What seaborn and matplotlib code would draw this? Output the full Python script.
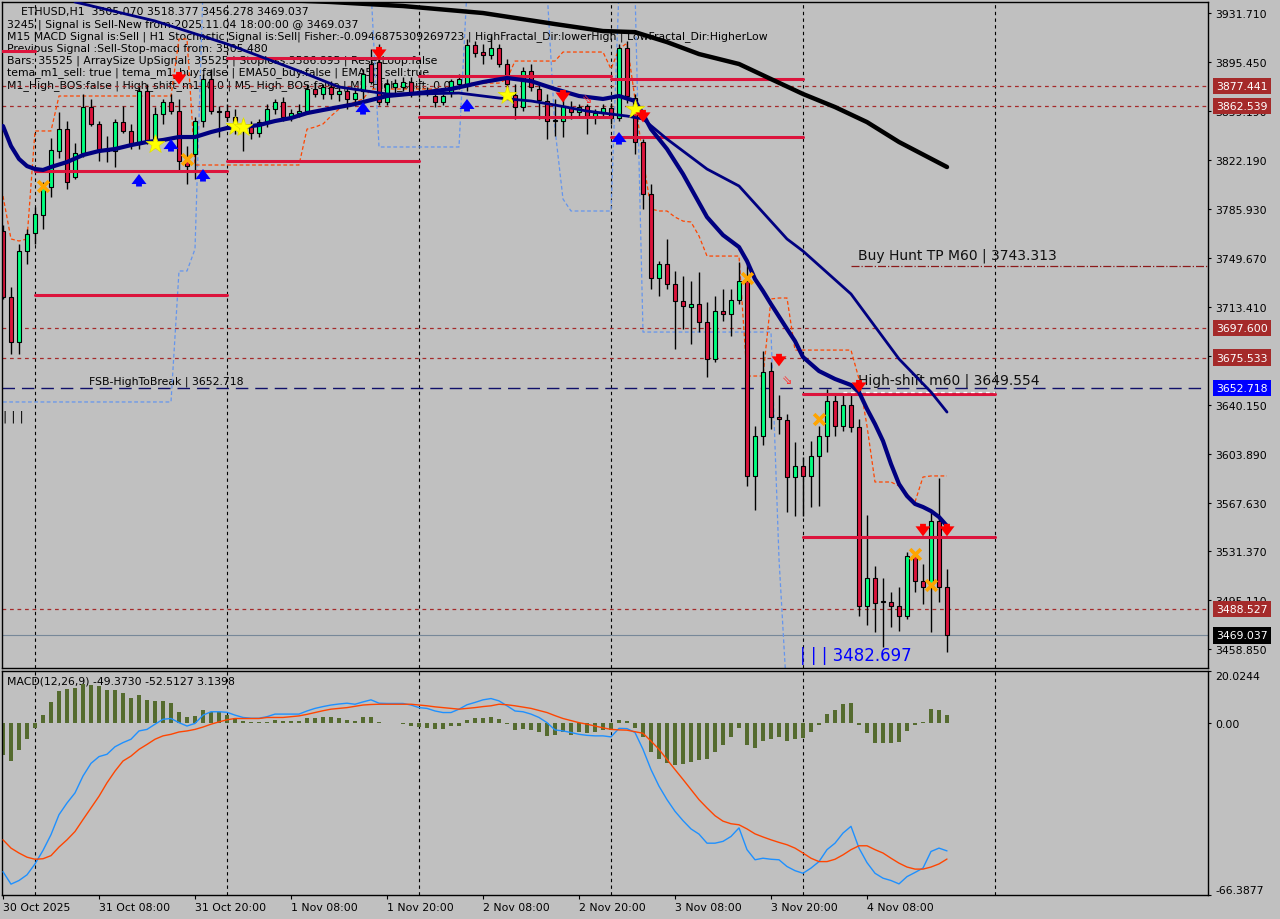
import matplotlib
matplotlib.use("Agg")
import matplotlib.pyplot as plt
import numpy as np
import seaborn as sns

# ETHUSD H1 - one bar per hour, first bar 30 Oct 2025 20:00, last 4 Nov 2025 18:00
opens = [3769.6, 3720.5, 3687.1, 3754.7, 3768.1, 3781.5, 3802.3, 3829.1, 3845.4, 3809.8,
         3827.6, 3861.8, 3849.2, 3829.1, 3829.1, 3850.6, 3844.0, 3834.3, 3873.7, 3835.8,
         3856.6, 3865.5, 3858.8, 3821.7, 3826.9, 3851.4, 3882.6, 3858.8, 3858.8, 3854.4,
         3846.9, 3846.9, 3842.5, 3850.6, 3860.3, 3865.5, 3854.4, 3857.3, 3858.8, 3875.2,
         3871.5, 3876.7, 3871.5, 3873.7, 3867.8, 3873.7, 3893.8, 3895.3, 3865.5, 3876.7,
         3876.7, 3880.4, 3871.5, 3873.7, 3870.0, 3865.5, 3873.0, 3878.9, 3878.9, 3907.9,
         3902.7, 3900.5, 3905.7, 3893.8, 3870.7, 3861.8, 3888.6, 3875.2, 3866.3, 3851.4,
         3851.4, 3861.8, 3858.1, 3862.5, 3854.4, 3857.3, 3861.1, 3853.6, 3905.7, 3868.5,
         3835.8, 3797.1, 3734.7, 3745.1, 3730.2, 3717.6, 3713.1, 3715.3, 3702.0, 3674.5,
         3710.1, 3707.9, 3718.3, 3732.4, 3587.5, 3617.2, 3665.5, 3631.3, 3629.1, 3586.7,
         3594.9, 3587.5, 3602.3, 3617.2, 3643.2, 3624.6, 3640.2, 3623.9, 3490.8, 3511.6,
         3493.8, 3493.8, 3490.8, 3483.4, 3528.0, 3509.4, 3504.9, 3554.0, 3505.07]
highs = [3774.1, 3728.0, 3760.0, 3771.1, 3787.5, 3806.0, 3838.8, 3858.1, 3851.4, 3835.0,
         3871.5, 3867.8, 3851.4, 3840.2, 3852.9, 3862.5, 3849.2, 3876.7, 3878.9, 3861.8,
         3867.8, 3871.5, 3867.8, 3832.8, 3854.4, 3886.3, 3890.1, 3862.5, 3864.0, 3860.3,
         3852.9, 3851.4, 3852.9, 3864.0, 3867.8, 3869.2, 3860.3, 3864.0, 3878.9, 3879.6,
         3878.9, 3881.1, 3878.2, 3876.7, 3875.2, 3890.1, 3904.9, 3908.6, 3882.6, 3882.6,
         3884.1, 3884.1, 3876.7, 3876.7, 3873.7, 3871.5, 3882.6, 3886.3, 3912.4, 3910.9,
         3908.6, 3914.6, 3908.6, 3897.5, 3878.9, 3891.5, 3893.8, 3878.9, 3871.5, 3867.8,
         3867.8, 3866.3, 3864.0, 3864.0, 3860.3, 3864.0, 3864.8, 3908.6, 3910.9, 3871.5,
         3838.0, 3804.6, 3747.3, 3763.7, 3739.9, 3736.2, 3732.4, 3739.1, 3716.8, 3721.3,
         3726.5, 3726.5, 3746.6, 3745.1, 3624.6, 3680.4, 3672.2, 3647.7, 3633.5, 3612.7,
         3601.6, 3613.5, 3624.6, 3652.1, 3648.4, 3647.7, 3647.7, 3629.8, 3558.5, 3520.6,
         3511.6, 3501.2, 3504.9, 3530.9, 3530.9, 3522.0, 3560.7, 3586.0, 3518.377]
lows = [3719.1, 3678.2, 3678.2, 3745.1, 3760.0, 3771.1, 3794.9, 3823.9, 3800.8, 3808.3,
        3824.6, 3847.7, 3821.7, 3820.9, 3817.2, 3842.5, 3830.6, 3830.6, 3834.3, 3833.5,
        3849.2, 3856.6, 3814.2, 3804.6, 3808.3, 3846.9, 3856.6, 3839.5, 3851.4, 3841.7,
        3829.1, 3838.0, 3839.5, 3846.9, 3856.6, 3851.4, 3851.4, 3854.4, 3856.6, 3869.2,
        3867.8, 3867.8, 3866.3, 3860.3, 3864.8, 3867.8, 3878.9, 3863.3, 3863.3, 3871.5,
        3873.7, 3869.2, 3869.2, 3870.0, 3861.8, 3863.3, 3869.2, 3875.2, 3873.7, 3899.0,
        3893.8, 3897.5, 3891.5, 3873.7, 3852.9, 3858.8, 3873.7, 3852.9, 3838.0, 3840.2,
        3839.5, 3852.9, 3854.4, 3841.7, 3849.2, 3854.4, 3849.2, 3851.4, 3864.8, 3826.9,
        3786.0, 3726.5, 3721.3, 3726.5, 3681.9, 3696.8, 3685.6, 3694.5, 3661.1, 3672.2,
        3702.7, 3691.5, 3715.3, 3580.0, 3562.2, 3610.5, 3622.4, 3618.7, 3560.7, 3557.7,
        3557.7, 3564.4, 3565.2, 3605.3, 3617.2, 3620.9, 3620.2, 3483.4, 3476.7, 3471.5,
        3460.3, 3475.2, 3472.2, 3481.1, 3501.2, 3492.3, 3471.5, 3493.8, 3456.278]
closes = [3720.5, 3687.1, 3754.7, 3767.4, 3782.2, 3802.3, 3829.8, 3845.4, 3806.0, 3827.6,
          3861.8, 3849.2, 3829.1, 3829.8, 3850.6, 3844.0, 3834.3, 3873.7, 3836.5, 3856.6,
          3865.5, 3858.8, 3821.7, 3817.9, 3851.4, 3882.6, 3858.8, 3858.1, 3854.4, 3846.9,
          3845.4, 3842.5, 3850.6, 3860.3, 3865.5, 3854.4, 3857.3, 3858.8, 3875.2, 3871.5,
          3876.7, 3871.5, 3873.7, 3867.8, 3872.2, 3886.3, 3880.4, 3865.5, 3878.9, 3879.6,
          3880.4, 3871.5, 3873.7, 3872.2, 3865.5, 3870.0, 3881.1, 3882.6, 3907.9, 3902.0,
          3900.5, 3905.7, 3893.8, 3878.9, 3861.8, 3888.6, 3876.7, 3867.0, 3851.4, 3852.1,
          3862.5, 3858.1, 3861.8, 3855.1, 3857.3, 3861.1, 3853.6, 3905.7, 3870.0, 3835.8,
          3797.1, 3734.7, 3745.1, 3730.2, 3717.6, 3713.9, 3715.3, 3702.0, 3674.5, 3710.1,
          3707.9, 3718.3, 3732.4, 3587.5, 3617.2, 3664.8, 3631.3, 3629.8, 3586.7, 3594.9,
          3587.5, 3602.3, 3617.2, 3643.2, 3624.6, 3640.2, 3623.9, 3490.8, 3511.6, 3493.0,
          3494.3, 3490.8, 3483.4, 3528.0, 3509.4, 3504.9, 3554.0, 3504.9, 3469.037]

# stop line (orange dashed) and lower channel (blue dashed), one value per bar
stop_line = [3795.6, 3763.7, 3762.2, 3763.7, 3844.0, 3844.0, 3844.0, 3870.0, 3870.0, 3870.0,
             3870.0, 3870.0, 3870.0, 3870.0, 3870.0, 3870.0, 3870.0, 3870.0, 3870.0, 3870.0,
             3870.0, 3870.0, 3912.4, 3912.4, 3818.7, 3818.7, 3818.7, 3818.7, 3818.7, 3818.7,
             3818.7, 3818.7, 3818.7, 3818.7, 3818.7, 3818.7, 3818.7, 3818.7, 3845.4, 3846.9,
             3849.2, 3855.1, 3860.3, 3864.0, 3865.5, 3867.8, 3875.2, 3875.2, 3875.2, 3875.2,
             3875.2, 3875.2, 3875.2, 3875.2, 3875.2, 3875.2, 3875.2, 3877.4, 3879.6, 3879.6,
             3879.6, 3879.6, 3879.6, 3882.6, 3896.0, 3896.0, 3896.0, 3896.0, 3896.0, 3896.0,
             3902.7, 3902.7, 3902.7, 3902.7, 3902.7, 3902.7, 3890.1, 3904.9, 3909.4, 3867.8,
             3823.2, 3786.0, 3784.5, 3784.5, 3780.0, 3777.0, 3776.3, 3765.9, 3751.0, 3751.0,
             3751.0, 3751.0, 3751.0, 3661.8, 3661.8, 3661.8, 3719.1, 3719.8, 3719.8, 3681.1,
             3681.1, 3681.1, 3681.1, 3681.1, 3681.1, 3681.1, 3681.1, 3659.6, 3624.6, 3583.0,
             3583.0, 3583.0, 3580.0, 3574.1, 3568.1, 3586.7, 3587.5, 3587.5, 3587.5]
low_channel = [3642.5, 3642.5, 3642.5, 3642.5, 3642.5, 3642.5, 3642.5, 3642.5, 3642.5, 3642.5,
               3642.5, 3642.5, 3642.5, 3642.5, 3642.5, 3642.5, 3642.5, 3642.5, 3642.5, 3642.5,
               3642.5, 3642.5, 3739.9, 3739.9, 3756.2, 3949.6, 3949.6, 3949.6, 3949.6, 3949.6,
               3949.6, 3949.6, 3949.6, 3949.6, 3949.6, 3949.6, 3949.6, 3949.6, 3949.6, 3949.6,
               3949.6, 3949.6, 3949.6, 3949.6, 3949.6, 3949.6, 3949.6, 3832.1, 3832.1, 3832.1,
               3832.1, 3832.1, 3832.1, 3832.1, 3832.1, 3832.1, 3832.1, 3832.1, 3949.6, 3949.6,
               3949.6, 3949.6, 3949.6, 3949.6, 3949.6, 3949.6, 3949.6, 3949.6, 3949.6, 3845.4,
               3793.4, 3784.5, 3784.5, 3784.5, 3784.5, 3784.5, 3784.5, 3949.6, 3949.6, 3949.6,
               3694.5, 3694.5, 3694.5, 3694.5, 3694.5, 3694.5, 3694.5, 3694.5, 3694.5, 3694.5,
               3694.5, 3694.5, 3694.5, 3694.5, 3694.5, 3694.5, 3694.5, 3525.8, 3421.7, 3421.7,
               3421.7, 3421.7, 3421.7, 3421.7, 3421.7, 3421.7, 3421.7, 3421.7, 3421.7, 3421.7,
               3421.7, 3421.7, 3421.7, 3421.7, 3421.7, 3421.7, 3421.7, 3421.7, 3421.7]

# moving averages read at selected bars
fast_idx = [0, 1, 2, 3, 4, 5, 6, 8, 10, 12, 14, 16, 18, 20, 22, 24, 26, 28, 30, 32, 34, 36, 38, 40,
            44, 48, 52, 56, 60, 63, 66, 69, 72, 75, 77, 79, 80, 81, 83, 85, 88, 90, 92, 93, 94, 95,
            96, 98, 99, 100, 102, 104, 106, 107, 108, 109, 110, 111, 112, 113, 114, 115, 116, 117, 118]
fast_ma = [3847.7, 3832.8, 3823.2, 3817.9, 3815.7, 3815.0, 3817.2, 3820.9, 3826.1, 3829.1, 3830.6,
           3833.5, 3835.8, 3837.3, 3839.5, 3839.5, 3843.2, 3846.2, 3846.9, 3848.4, 3851.4, 3853.6,
           3857.3, 3859.6, 3864.0, 3870.0, 3872.2, 3875.2, 3880.4, 3883.4, 3881.1, 3875.2, 3870.0,
           3867.8, 3870.0, 3866.3, 3856.6, 3845.4, 3830.6, 3812.0, 3780.0, 3766.6, 3757.7, 3747.3,
           3733.9, 3725.0, 3715.3, 3696.8, 3687.8, 3675.9, 3665.5, 3659.6, 3655.1, 3649.9, 3637.3,
           3626.1, 3613.5, 3596.4, 3581.5, 3572.6, 3566.7, 3564.4, 3561.4, 3557.0, 3550.3]
slow_idx = [9, 19, 28, 37, 42, 48, 52, 57, 62, 66, 69, 73, 76, 78, 80, 83, 88, 92, 98, 100, 106, 112, 116, 118]
slow_ma = [3939.9, 3925.8, 3908.7, 3888.6, 3876.7, 3871.5, 3871.5, 3872.2, 3868.5, 3866.3, 3863.3, 3858.8,
           3856.6, 3855.1, 3852.9, 3838.0, 3815.7, 3803.1, 3763.7, 3754.7, 3722.8, 3674.5, 3649.9, 3635.0]
long_idx = [35, 41, 50, 60, 69, 75, 79, 83, 87, 92, 96, 100, 104, 108, 112, 118]
long_ma = [3941.4, 3939.9, 3936.9, 3931.7, 3923.5, 3918.3, 3917.5, 3910.1, 3901.2, 3893.8, 3882.6,
           3871.5, 3861.8, 3850.6, 3835.8, 3817.2]

# daily levels: (first bar, last bar, price)
day_levels = [(-1, 4, 3903.4), (4, 28, 3814.2), (4, 28, 3722.0), (28, 52, 3898.2), (28, 52, 3821.7),
              (52, 76, 3884.9), (52, 76, 3854.4), (76, 100, 3882.6), (76, 100, 3839.5),
              (100, 124, 3648.4), (100, 124, 3542.1)]
dashed_levels = [3877.441, 3862.539, 3697.600, 3675.533, 3488.527]
break_level = 3652.718
tp_level = 3743.313
shift_level = 3649.554
last_price = 3469.037

# signal markers
star_idx = [19, 29, 30, 63, 79]
star_px = [3834.3, 3847.7, 3846.9, 3870.7, 3860.3]
up_idx = [17, 21, 25, 45, 58, 77]
up_px = [3812.0, 3838.0, 3815.7, 3865.5, 3867.8, 3843.2]
down_idx = [22, 47, 70, 80, 97, 107, 115, 118]
down_px = [3882.6, 3901.2, 3869.2, 3854.4, 3673.0, 3653.6, 3546.6, 3546.6]
cross_idx = [5, 23, 93, 102, 114, 116]
cross_px = [3803.1, 3823.2, 3734.7, 3629.8, 3529.5, 3506.4]

# MACD(12,26,9)
macd_line = [-57.4, -62.2, -60.8, -58.6, -54.4, -49.2, -43.1, -35.4, -30.9, -27.0,
             -20.5, -15.6, -13.0, -12.1, -9.2, -7.6, -6.3, -3.1, -2.5, -0.5,
             1.4, 1.7, 0.1, -1.2, -0.2, 3.0, 4.3, 4.3, 4.1, 3.0,
             2.1, 1.8, 1.8, 2.4, 3.4, 3.4, 3.4, 3.4, 4.6, 5.6,
             6.3, 6.9, 7.3, 7.6, 7.2, 8.1, 8.9, 7.6, 7.5, 7.5,
             7.5, 6.9, 5.9, 5.6, 4.6, 4.0, 4.0, 5.3, 7.0, 7.9,
             8.9, 9.4, 8.5, 6.6, 4.6, 4.3, 3.4, 2.1, 0.1, -2.7,
             -3.1, -3.7, -4.4, -4.8, -5.0, -5.0, -5.4, -2.1, -2.2, -3.7,
             -10.2, -18.0, -24.4, -29.6, -34.1, -37.7, -40.9, -42.9, -46.4, -46.4,
             -45.7, -43.8, -40.5, -48.9, -52.8, -52.2, -52.6, -52.8, -55.4, -57.0,
             -58.0, -56.0, -53.5, -48.9, -46.4, -42.5, -39.9, -48.3, -53.9, -58.0,
             -59.9, -60.8, -62.1, -59.3, -57.7, -56.0, -49.6, -48.3, -49.373]
signal_line = [-45.1, -48.3, -50.2, -51.8, -52.6, -52.4, -51.2, -47.9, -45.1, -41.9,
               -37.3, -32.8, -28.3, -23.1, -18.6, -14.7, -12.8, -10.2, -8.3, -6.3,
               -5.0, -4.4, -3.5, -3.1, -2.5, -1.6, -0.5, 0.4, 1.2, 1.7,
               1.7, 1.7, 1.7, 2.1, 2.1, 2.1, 2.4, 2.7, 3.3, 4.0,
               4.7, 5.3, 5.6, 5.9, 6.4, 6.9, 7.1, 7.2, 7.2, 7.2,
               7.2, 7.2, 6.9, 6.6, 6.2, 5.9, 5.6, 5.3, 5.6, 5.9,
               6.3, 6.6, 7.2, 7.0, 6.6, 6.1, 5.6, 4.8, 4.0, 2.8,
               1.7, 0.9, 0.1, -0.5, -1.2, -1.9, -2.5, -2.7, -2.8, -3.4,
               -4.0, -7.0, -10.2, -14.1, -18.0, -21.8, -25.7, -29.6, -32.8, -35.8,
               -37.9, -38.9, -39.3, -40.9, -42.8, -44.0, -45.1, -46.1, -47.0, -48.3,
               -50.2, -52.2, -53.5, -53.5, -52.6, -50.9, -48.9, -47.4, -47.4, -48.9,
               -50.2, -52.2, -54.1, -55.6, -56.4, -56.4, -55.6, -54.4, -52.513]
macd_hist = [-12.4, -14.7, -10.4, -6.2, -2.0, 3.0, 8.1, 12.4, 13.0, 13.3,
             15.0, 14.6, 14.3, 12.7, 12.7, 11.5, 9.8, 10.7, 8.8, 8.4,
             8.4, 7.6, 4.4, 2.4, 2.8, 4.9, 4.4, 4.1, 3.0, 1.8,
             0.8, 0.3, 0.2, 0.3, 1.2, 0.8, 0.8, 0.8, 1.9, 1.9,
             2.2, 2.2, 1.9, 1.2, 0.8, 2.2, 2.4, 0.2, 0.1, -0.1,
             -0.3, -1.0, -1.7, -2.0, -2.3, -2.3, -1.3, -1.0, 1.2, 2.0,
             2.0, 2.4, 1.5, -0.4, -2.6, -2.3, -2.6, -3.4, -4.9, -4.6,
             -3.4, -4.6, -3.6, -3.9, -3.4, -2.7, -2.6, 1.0, 0.6, -2.0,
             -5.3, -11.4, -14.0, -15.3, -16.4, -16.0, -15.0, -14.2, -14.0, -11.1,
             -8.5, -5.3, -2.0, -8.5, -9.8, -6.8, -6.4, -5.3, -6.8, -6.4,
             -5.8, -3.6, -0.8, 3.5, 5.0, 7.2, 7.6, -0.8, -3.9, -7.6,
             -7.6, -7.6, -7.3, -3.0, -0.8, 0.5, 5.4, 5.0, 3.1398]

price_ticks = [3931.710, 3895.450, 3859.190, 3822.190, 3785.930, 3749.670, 3713.410,
               3676.890, 3640.150, 3603.890, 3567.630, 3531.370, 3495.110, 3458.850]
time_ticks = [0, 12, 24, 36, 48, 60, 72, 84, 96, 108]
time_labels = ['30 Oct 2025', '31 Oct 08:00', '31 Oct 20:00', '1 Nov 08:00', '1 Nov 20:00',
               '2 Nov 08:00', '2 Nov 20:00', '3 Nov 08:00', '3 Nov 20:00', '4 Nov 08:00']
day_starts = [4, 28, 52, 76, 100, 124]

info_lines = [
    'ETHUSD,H1  3505.070 3518.377 3456.278 3469.037',
    '3245 | Signal is Sell-New from:2025.11.04 18:00:00 @ 3469.037',
    'M15 MACD Signal is:Sell | H1 Stochastic Signal is:Sell| Fisher:-0.0946875309269723 | '
    'HighFractal_Dir:lowerHigh | LowFractal_Dir:HigherLow',
    'Previous Signal :Sell-Stop-macd from: 3505.480',
    'Bars: 35525 | ArraySize UpSignal: 35525 | Stoploss:3586.895 | ResetLoop:false',
    'tema_m1_sell: true | tema_m1_buy:false | EMA50_buy:false | EMA50_sell:true',
    'M1_High_BOS:false | High_shift_m1: 0.0 | M5_High_BOS:false | M5_High_shift: 0.0',
]

sns.set_theme(style="white")
plt.rcParams['font.family'] = ['DejaVu Sans']
plt.rcParams['text.color'] = 'black'

BG = '#c0c0c0'
FS = 7.8
W, H = 1280, 920


def fx(x):
    return x / W


def fy(y):
    return 1 - y / H


fig = plt.figure(figsize=(12.8, 9.2), dpi=100, facecolor=BG)
ax = fig.add_axes([fx(2), fy(669), fx(1208) - fx(2), fy(3) - fy(669)], facecolor=BG)
axm = fig.add_axes([fx(2), fy(896), fx(1208) - fx(2), fy(672) - fy(896)], facecolor=BG)
XMIN, XMAX = -0.125, 150.625

bars = np.arange(len(opens))
o = np.array(opens)
c = np.array(closes)
up = c >= o

# ---------------- main price panel ----------------
for d in day_starts:
    ax.axvline(d, color='black', lw=0.8, ls=(0, (3, 3)), zorder=1)

for lv in dashed_levels:
    ax.axhline(lv, color='#a52a2a', lw=0.9, ls=(0, (3, 3)), zorder=1.2)
ax.axhline(last_price, color='#778899', lw=0.8, zorder=1.2)
ax.axhline(break_level, color='#10106a', lw=1.0, ls=(0, (9, 5)), zorder=1.2)
ax.plot([106, XMAX], [tp_level, tp_level], color='#8b1a1a', lw=0.9, ls='-.', zorder=1.2)
ax.plot([105, 124], [shift_level, shift_level], color='white', lw=0.9, ls=(0, (3, 3)), zorder=3.2)

ax.plot(bars, low_channel, color='#6495ed', lw=0.9, ls=(0, (3, 2)), zorder=1.5)
ax.plot(bars, stop_line, color='#ff4500', lw=0.9, ls=(0, (3, 2)), zorder=1.5)

ax.vlines(bars, lows, highs, color='black', lw=1.0, zorder=2)
ax.bar(bars, c - o, bottom=o, width=0.62, color=np.where(up, '#00ff7f', '#dc143c'),
       edgecolor='black', linewidth=0.8, zorder=2.1)

for a, b, lv in day_levels:
    ax.plot([a, b], [lv, lv], color='#dc143c', lw=2.2, zorder=3)

sns.lineplot(x=long_idx, y=long_ma, ax=ax, color='black', lw=3.2, estimator=None, sort=False, zorder=3.5)
sns.lineplot(x=slow_idx, y=slow_ma, ax=ax, color='#000080', lw=2.0, estimator=None, sort=False, zorder=3.5)
sns.lineplot(x=fast_idx, y=fast_ma, ax=ax, color='#000080', lw=3.0, estimator=None, sort=False, zorder=3.6)

ax.scatter(star_idx, star_px, marker='*', s=200, color='#ffff00', edgecolor='#e0e000', lw=0.5, zorder=4)
ax.scatter(cross_idx, cross_px, marker='x', s=60, color='#ffa500', lw=2.6, zorder=4)
for i, p in zip(up_idx, up_px):
    ax.annotate('', xy=(i, p), xytext=(0, -9), textcoords='offset points', zorder=4,
                arrowprops=dict(arrowstyle='simple,head_width=0.9,head_length=0.6,tail_width=0.35',
                                color='#0000ff', lw=0, shrinkA=0, shrinkB=0))
for i, p in zip(down_idx, down_px):
    ax.annotate('', xy=(i, p - 4), xytext=(0, 9), textcoords='offset points', zorder=4,
                arrowprops=dict(arrowstyle='simple,head_width=0.9,head_length=0.6,tail_width=0.35',
                                color='#ff0000', lw=0, shrinkA=0, shrinkB=0))
ax.text(73, 3868, '\u21d8', color='#ff3030', fontsize=9, ha='center', va='center', zorder=4)
ax.text(98, 3659, '\u21d8', color='#ff3030', fontsize=9, ha='center', va='center', zorder=4)

ax.set_xlim(XMIN, XMAX)
ax.set_ylim(3444.7, 3939.9)
ax.yaxis.tick_right()
ax.set_yticks(price_ticks)
ax.set_yticklabels([f'{v:.3f}' for v in price_ticks])
ax.tick_params(axis='y', direction='out', length=2.5, width=0.8, pad=3, labelsize=FS,
               colors='black', right=True, left=False)
ax.tick_params(axis='x', bottom=False, labelbottom=False)
for s in ax.spines.values():
    s.set_color('black')
    s.set_linewidth(1)

boxes = [(3877.441, '#a52a2a'), (3862.539, '#a52a2a'), (3697.600, '#a52a2a'),
         (3675.533, '#a52a2a'), (break_level, '#0000ff'), (3488.527, '#a52a2a'),
         (last_price, '#000000')]
for val, bg in boxes:
    ax.annotate(f'{val:.3f}', xy=(1, val), xycoords=('axes fraction', 'data'),
                xytext=(5.6, 0), textcoords='offset points', ha='left', va='center',
                fontsize=FS, color='white', annotation_clip=False, zorder=6,
                bbox=dict(boxstyle='square,pad=0.3', fc=bg, ec='none'))

for k, line in enumerate(info_lines):
    x0 = 21 if k == 0 else 7
    ax.text(fx(x0), fy(12.5 + 12.1 * k), line, transform=fig.transFigure, fontsize=FS,
            ha='left', va='center', zorder=1)

ax.text(fx(89), fy(382), 'FSB-HighToBreak | 3652.718', transform=fig.transFigure,
        fontsize=FS, ha='left', va='center', zorder=1)
ax.text(fx(858), fy(256), 'Buy Hunt TP M60 | 3743.313', transform=fig.transFigure,
        fontsize=10, ha='left', va='center', color='#101010', zorder=1)
ax.text(fx(858), fy(381), 'High-shift m60 | 3649.554', transform=fig.transFigure,
        fontsize=10, ha='left', va='center', color='#101010', zorder=1)
ax.text(fx(800), fy(656), '| | | 3482.697', transform=fig.transFigure,
        fontsize=12, ha='left', va='center', color='#0000ff', zorder=1)
ax.text(fx(3), fy(417), '| | |', transform=fig.transFigure,
        fontsize=9, ha='left', va='center', color='black', zorder=1)

# ---------------- MACD panel ----------------
for d in day_starts:
    axm.axvline(d, color='black', lw=0.8, ls=(0, (3, 3)), zorder=1)
axm.bar(bars, macd_hist, width=0.6, color='#556b2f', edgecolor='none', linewidth=0, zorder=2)
sns.lineplot(x=bars, y=macd_line, ax=axm, color='#1e90ff', lw=1.0, estimator=None, sort=False, zorder=3)
sns.lineplot(x=bars, y=signal_line, ax=axm, color='#ff4500', lw=1.0, estimator=None, sort=False, zorder=3)

axm.set_xlim(XMIN, XMAX)
axm.set_ylim(-66.3877, 20.0244)
axm.yaxis.tick_right()
axm.set_yticks([20.0244, 0.0, -66.3877])
ylabs = axm.set_yticklabels(['20.0244', '0.00', '-66.3877'])
ylabs[0].set_va('top')
ylabs[2].set_va('bottom')
axm.tick_params(axis='y', direction='out', length=2.5, width=0.8, pad=3, labelsize=FS,
                colors='black', right=True, left=False)
axm.set_xticks(time_ticks)
xlabs = axm.set_xticklabels(time_labels)
for t in xlabs:
    t.set_ha('left')
axm.tick_params(axis='x', direction='out', length=3, width=0.8, pad=2, labelsize=FS,
                colors='black', bottom=True)
axm.set_xlabel('')
axm.set_ylabel('')
ax.set_xlabel('')
ax.set_ylabel('')
for s in axm.spines.values():
    s.set_color('black')
    s.set_linewidth(1)
axm.text(fx(7), fy(682), 'MACD(12,26,9) -49.3730 -52.5127 3.1398', transform=fig.transFigure,
         fontsize=FS, ha='left', va='center', zorder=1)

fig.savefig('out.png', dpi=100, facecolor=BG)
